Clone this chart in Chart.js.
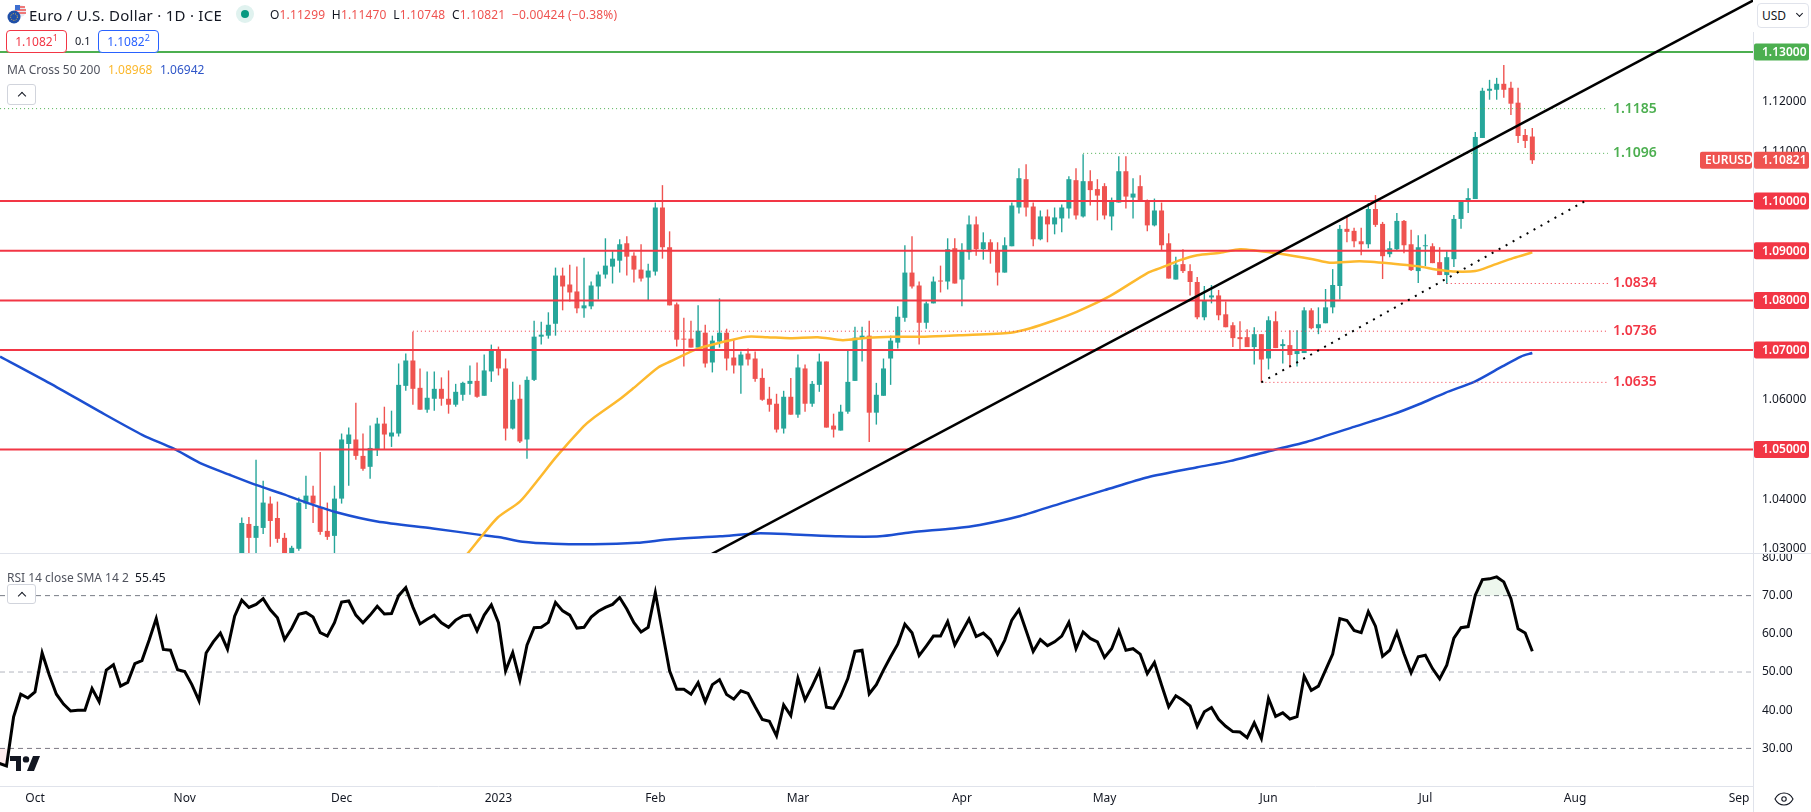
<!DOCTYPE html>
<html><head><meta charset="utf-8"><title>EUR/USD</title>
<script src="https://cdn.jsdelivr.net/npm/chart.js@4/dist/chart.umd.min.js"></script>
<style>
html,body{margin:0;padding:0;background:#fff;width:1811px;height:812px;overflow:hidden;font-family:"Noto Sans",sans-serif;color:#131722}
canvas{position:absolute;left:0}
.t{position:absolute;white-space:nowrap;font-size:12px;line-height:16px}
.btn{position:absolute;border:1px solid #d1d4dc;border-radius:3px;background:#fff;box-sizing:border-box}
.btn:after{content:"";position:absolute;left:11px;top:8px;width:5px;height:5px;border-left:1.5px solid #131722;border-top:1.5px solid #131722;transform:rotate(45deg)}
.box{position:absolute;box-sizing:border-box;border-radius:4px;background:#fff;text-align:center;font-size:12px;line-height:21px}
.rule{position:absolute;background:#e0e3eb}
sup{font-size:9px;line-height:0}
svg{position:absolute}
</style></head><body>
<canvas id="price" width="1811" height="554" style="top:0"></canvas>
<canvas id="rsi" width="1811" height="258" style="top:554px"></canvas>

<div class="rule" style="left:0;top:553px;width:1811px;height:1px"></div>
<div class="rule" style="left:1753px;top:32px;width:1px;height:780px"></div>

<svg style="left:7px;top:5px" width="20" height="19" viewBox="0 0 20 19"><circle cx="13" cy="6" r="6" fill="#e8eaf2"/><path d="M9 2h9M8 5h11M8 8h11" stroke="#ef5350" stroke-width="1.4"/><rect x="8" y="0" width="5" height="5" fill="#3f6fd0"/><circle cx="7" cy="12" r="6.5" fill="#1f4fa8"/><circle cx="7" cy="12" r="3.4" fill="none" stroke="#f5c542" stroke-width="1" stroke-dasharray="1 1.4"/></svg>
<div class="t" id="pairTitle" style="left:29px;top:4px;font-size:15px;line-height:22px;letter-spacing:.27px">Euro / U.S. Dollar · 1D · ICE</div>
<svg style="left:236px;top:5px" width="18" height="18"><circle cx="9" cy="9" r="9" fill="#e0f2ef"/><circle cx="9" cy="9" r="4" fill="#089981"/></svg>
<div class="t" style="left:270px;top:7px;letter-spacing:.18px"><span>O</span><span style="color:#ef5350">1.11299</span>&nbsp; <span>H</span><span style="color:#ef5350">1.11470</span>&nbsp; <span>L</span><span style="color:#ef5350">1.10748</span>&nbsp; <span>C</span><span style="color:#ef5350">1.10821&nbsp; −0.00424 (−0.38%)</span></div>
<div class="box" style="left:6px;top:30px;width:61px;height:23px;border:1px solid #f23645;color:#f23645">1.1082<sup>1</sup></div>
<div class="t" style="left:75px;top:33px;font-size:11px">0.1</div>
<div class="box" style="left:98px;top:30px;width:61px;height:23px;border:1px solid #2962ff;color:#2962ff">1.1082<sup>2</sup></div>
<div class="t" style="left:7px;top:62px;color:#50535e">MA Cross 50 200</div>
<div class="t" style="left:108px;top:62px;color:#fbb82c">1.08968</div>
<div class="t" style="left:160px;top:62px;color:#2f56c8">1.06942</div>
<div class="btn" style="left:7px;top:84px;width:29px;height:21px"></div>
<div class="box" style="left:1757px;top:3px;width:52px;height:25px;border:1px solid #e0e3eb;text-align:left;padding-left:4px;line-height:23px;color:#131722">USD<span style="position:absolute;right:6px;top:7px;width:4px;height:4px;border-right:1.3px solid #131722;border-bottom:1.3px solid #131722;transform:rotate(45deg)"></span></div>

<div class="t" style="left:7px;top:570px;color:#50535e">RSI 14 close SMA 14 2 &nbsp;<span style="color:#131722">55.45</span></div>
<div class="btn" style="left:7px;top:584px;width:29px;height:20px"></div>
<svg style="left:10px;top:756px" width="30" height="15" viewBox="0 0 30 15" fill="#131722"><path d="M0 0h11v15H6V5H0z"/><circle cx="16" cy="3.4" r="3.2"/><path d="M23 0h7l-6 15h-7z"/></svg>
<svg style="left:1774px;top:792px" width="20" height="14" viewBox="0 0 20 14" fill="none" stroke="#131722" stroke-width="1.1"><path d="M1 7c2-4 5-6 9-6s7 2 9 6c-2 4-5 6-9 6s-7-2-9-6z"/><circle cx="10" cy="7" r="2.2"/></svg>

<script>
// First candle is weekday index 29 (index 0 = 3 Oct 2022); one value per weekday.
const candleStart = 29;
const opens = [1.0270,1.0350,1.0322,1.0342,1.0391,1.0362,1.0322,1.0285,1.0300,1.0391,1.0407,1.0384,1.0336,1.0326,1.0401,1.0511,1.0520,1.0487,1.0465,1.0499,1.0552,1.0526,1.0532,1.0628,1.0679,1.0624,1.0580,1.0602,1.0622,1.0602,1.0590,1.0610,1.0632,1.0638,1.0608,1.0657,1.0701,1.0663,1.0542,1.0602,1.0520,1.0640,1.0727,1.0729,1.0753,1.0850,1.0832,1.0818,1.0784,1.0788,1.0828,1.0852,1.0868,1.0880,1.0915,1.0890,1.0862,1.0846,1.0858,1.0987,1.0907,1.0792,1.0723,1.0723,1.0705,
1.0735,1.0675,1.0717,1.0735,1.0685,1.0669,1.0693,1.0683,1.0644,1.0602,1.0592,1.0542,1.0606,1.0570,1.0663,1.0592,1.0630,1.0677,1.0548,1.0538,1.0576,1.0638,1.0723,1.0729,1.0574,1.0608,1.0683,1.0715,1.0765,1.0856,1.0830,1.0755,1.0794,1.0840,1.0838,1.0905,1.0842,1.0897,1.0953,1.0903,1.0917,1.0899,1.0856,1.0909,1.0987,1.1044,1.0989,1.0923,1.0969,1.0953,1.0965,1.0985,1.1042,1.0969,1.1040,1.1024,1.1030,1.0969,1.0997,1.1060,1.1007,1.1030,1.1001,1.0951,1.0981,1.0915,1.0842,
1.0873,1.0859,1.0837,1.0766,1.0806,1.0810,1.0772,1.0750,1.0726,1.0726,1.0706,1.0732,1.0683,1.0758,1.0708,1.0710,1.0692,1.0694,1.0780,1.0744,1.0754,1.0786,1.0829,1.0944,1.0940,1.0919,1.0913,1.0984,1.0954,1.0893,1.0903,1.0960,1.0913,1.0859,1.0909,1.0909,1.0877,1.0851,1.0883,1.0964,1.0998,1.1004,1.1127,1.1222,1.1224,1.1236,1.1228,1.1198,1.1133,1.11299];
const highs = [1.0363,1.0364,1.0479,1.0437,1.0405,1.0395,1.0332,1.0306,1.0403,1.0447,1.0427,1.0495,1.0393,1.0427,1.0532,1.0544,1.0594,1.0532,1.0548,1.0564,1.0586,1.0578,1.0673,1.0693,1.0737,1.0663,1.0657,1.0657,1.0645,1.0659,1.0632,1.0636,1.0669,1.0675,1.0691,1.0711,1.0707,1.0683,1.0636,1.0630,1.0647,1.0759,1.0757,1.0776,1.0866,1.0866,1.0872,1.0868,1.0886,1.0838,1.0858,1.0925,1.0899,1.0923,1.0929,1.0897,1.0913,1.0874,1.0997,1.1032,1.0939,1.0796,1.0765,1.0759,1.0790,
1.0751,1.0729,1.0804,1.0743,1.0721,1.0697,1.0703,1.0697,1.0663,1.0626,1.0612,1.0618,1.0644,1.0691,1.0671,1.0638,1.0693,1.0677,1.0572,1.0590,1.0699,1.0747,1.0747,1.0759,1.0634,1.0683,1.0729,1.0788,1.0911,1.0929,1.0838,1.0798,1.0848,1.0870,1.0925,1.0925,1.0915,1.0971,1.0969,1.0937,1.0923,1.0917,1.0927,1.0997,1.1066,1.1074,1.0997,1.0981,1.0983,1.0987,1.0993,1.1050,1.1066,1.1094,1.1062,1.1044,1.1036,1.1007,1.1090,1.1090,1.1046,1.1052,1.1003,1.1005,1.0997,1.0935,1.0888,
1.0903,1.0873,1.0847,1.0829,1.0831,1.0821,1.0798,1.0756,1.0758,1.0742,1.0746,1.0732,1.0768,1.0778,1.0722,1.0740,1.0740,1.0786,1.0784,1.0786,1.0823,1.0863,1.0952,1.0970,1.0946,1.0946,1.0996,1.1012,1.0958,1.0919,1.0976,1.0962,1.0942,1.0931,1.0933,1.0915,1.0907,1.0899,1.0972,1.1000,1.1026,1.1139,1.1228,1.1244,1.1248,1.1274,1.1240,1.1228,1.1145,1.11470];
const lows = [1.0255,1.0270,1.0280,1.0330,1.0304,1.0312,1.0275,1.0280,1.0296,1.0380,1.0352,1.0328,1.0318,1.0285,1.0391,1.0427,1.0479,1.0457,1.0441,1.0487,1.0499,1.0505,1.0526,1.0618,1.0590,1.0580,1.0574,1.0578,1.0588,1.0572,1.0586,1.0598,1.0610,1.0604,1.0608,1.0636,1.0649,1.0518,1.0540,1.0513,1.0481,1.0638,1.0711,1.0723,1.0729,1.0780,1.0798,1.0774,1.0765,1.0782,1.0802,1.0844,1.0834,1.0856,1.0850,1.0836,1.0838,1.0800,1.0850,1.0884,1.0790,1.0707,1.0667,1.0705,1.0705,
1.0665,1.0655,1.0705,1.0659,1.0653,1.0612,1.0669,1.0636,1.0598,1.0576,1.0534,1.0532,1.0570,1.0564,1.0576,1.0586,1.0616,1.0544,1.0524,1.0538,1.0572,1.0638,1.0677,1.0515,1.0550,1.0608,1.0630,1.0703,1.0757,1.0824,1.0711,1.0743,1.0794,1.0816,1.0822,1.0834,1.0788,1.0882,1.0890,1.0882,1.0874,1.0830,1.0856,1.0909,1.0975,1.0969,1.0909,1.0921,1.0917,1.0933,1.0937,1.0965,1.0963,1.0967,1.0991,1.0961,1.0963,1.0941,1.0997,1.0985,1.0965,1.0999,1.0939,1.0949,1.0901,1.0844,1.0842,
1.0855,1.0810,1.0762,1.0760,1.0794,1.0760,1.0746,1.0706,1.0702,1.0706,1.0671,1.0635,1.0661,1.0704,1.0673,1.0665,1.0667,1.0694,1.0742,1.0732,1.0754,1.0774,1.0802,1.0917,1.0907,1.0891,1.0905,1.0948,1.0843,1.0887,1.0901,1.0895,1.0859,1.0835,1.0869,1.0875,1.0851,1.0833,1.0867,1.0944,1.0976,1.1004,1.1127,1.1204,1.1204,1.1208,1.1173,1.1117,1.1107,1.10748];
const closes = [1.0352,1.0322,1.0346,1.0393,1.0356,1.0320,1.0285,1.0302,1.0393,1.0407,1.0391,1.0334,1.0324,1.0401,1.0520,1.0530,1.0487,1.0461,1.0503,1.0552,1.0530,1.0534,1.0630,1.0679,1.0622,1.0580,1.0604,1.0622,1.0602,1.0590,1.0616,1.0634,1.0638,1.0606,1.0659,1.0701,1.0663,1.0542,1.0600,1.0516,1.0640,1.0727,1.0731,1.0751,1.0850,1.0828,1.0816,1.0784,1.0790,1.0830,1.0852,1.0870,1.0884,1.0913,1.0888,1.0862,1.0844,1.0860,1.0987,1.0907,1.0790,1.0721,1.0721,1.0705,1.0739,
1.0673,1.0719,1.0735,1.0683,1.0669,1.0691,1.0681,1.0642,1.0600,1.0590,1.0540,1.0606,1.0570,1.0665,1.0592,1.0632,1.0677,1.0544,1.0540,1.0576,1.0636,1.0725,1.0729,1.0574,1.0610,1.0663,1.0719,1.0767,1.0856,1.0828,1.0755,1.0794,1.0838,1.0838,1.0903,1.0834,1.0901,1.0953,1.0903,1.0917,1.0899,1.0856,1.0911,1.0991,1.1046,1.0987,1.0923,1.0969,1.0953,1.0967,1.0987,1.1044,1.0971,1.1040,1.1022,1.1011,1.0971,1.0999,1.1060,1.1009,1.1015,1.0999,1.0951,1.0981,1.0911,1.0844,1.0872,
1.0859,1.0837,1.0766,1.0800,1.0810,1.0770,1.0746,1.0724,1.0722,1.0706,1.0732,1.0681,1.0760,1.0704,1.0712,1.0690,1.0698,1.0780,1.0744,1.0752,1.0786,1.0831,1.0944,1.0938,1.0919,1.0913,1.0984,1.0952,1.0889,1.0905,1.0960,1.0911,1.0861,1.0907,1.0911,1.0875,1.0851,1.0887,1.0964,1.1000,1.1006,1.1129,1.1222,1.1226,1.1236,1.1224,1.1196,1.1131,1.1121,1.10821];

const ma50Idx = [55,60.7,62.8,64.9,68,70.5,73.1,76.9,78.1,82,83.9,87.4,89.1,92.8,96.1,99.9,102.7,105.9,109.8,113.3,116.7,120.3,124.8,129.7,136.8,139.6,142.8,146.1,150.8,156,157.8,160.6,163,166.2,169,171.4,174.2,179.2,181.6,185.8,190.5,193.8,197,198.9,202,204.5,207.3,210];
const ma50 = [1.0195,1.0291,1.0328,1.0363,1.0395,1.0438,1.0485,1.0546,1.0561,1.0601,1.0623,1.0665,1.0677,1.0702,1.0715,1.0727,1.0726,1.0724,1.0726,1.0720,1.0725,1.0727,1.0727,1.0730,1.0735,1.0744,1.0759,1.0777,1.0809,1.0855,1.0865,1.0881,1.0891,1.0896,1.0903,1.0900,1.0895,1.0883,1.0876,1.0879,1.0874,1.0869,1.0861,1.0858,1.0859,1.0871,1.0885,1.08968];
const ma200Idx = [-4.9,2.1,9.1,15.1,19.4,23.1,27.3,31.1,34.8,38.1,42.4,48,55.8,62.4,65.2,68.4,72.7,78.3,84.4,89.1,96.1,101.3,106.3,112.9,118.5,122.7,128.8,132.5,138.2,144,150,156.1,163,167.7,174,178.3,185.1,190.5,194.1,197.8,202,205.8,208.4,210];
const ma200 = [1.0687,1.0633,1.0576,1.0529,1.0502,1.0473,1.0449,1.0428,1.0410,1.0393,1.0373,1.0355,1.0341,1.0328,1.0323,1.0314,1.0310,1.0309,1.0312,1.0319,1.0325,1.0331,1.0329,1.0325,1.0325,1.0333,1.0341,1.0348,1.0366,1.0392,1.0418,1.0444,1.0464,1.0477,1.0500,1.0515,1.0546,1.0571,1.0591,1.0614,1.0637,1.0667,1.0687,1.06942];

// RSI: one value per weekday from index -5 to 210
const rsiStart = -5;
const rsiValues = [26.1,25.4,38.3,44.2,43.2,44.8,55.0,49.2,44.2,41.6,39.8,40.0,40.0,45.7,42.2,50.5,51.9,46.3,47.3,52.2,53.0,58.3,64.0,55.9,55.7,50.6,50.1,46.7,42.5,55.0,57.9,60.2,56.0,64.6,68.8,66.9,67.7,69.2,66.3,64.2,58.5,61.4,65.1,65.6,64.4,60.3,59.4,62.9,68.3,68.6,64.9,62.9,64.9,67.2,65.2,65.3,70.0,72.1,67.0,62.6,63.8,64.9,62.9,61.7,63.6,64.7,64.9,60.8,64.9,67.6,62.9,50.3,55.1,47.9,57.0,61.6,61.7,63.0,68.2,66.0,64.9,61.5,61.7,64.4,65.9,66.9,67.7,69.5,66.5,62.9,60.5,61.7,70.8,60.5,50.3,45.5,45.5,44.2,47.2,
42.2,46.7,48.0,44.1,42.9,45.1,44.4,40.9,37.6,37.1,33.3,41.4,38.6,48.4,42.7,46.3,50.3,40.8,40.5,43.8,48.3,55.4,55.7,44.3,46.7,50.5,54.0,57.3,62.5,60.3,54.3,56.8,59.4,59.4,63.2,57.1,60.5,63.9,59.3,60.2,58.5,54.7,58.3,63.6,66.3,60.9,55.4,58.5,56.9,57.9,59.4,63.0,56.1,60.5,58.8,57.9,53.8,56.1,60.8,55.7,56.1,54.7,49.6,52.5,46.6,40.9,43.8,42.6,41.1,35.8,39.6,40.7,37.6,35.8,34.4,34.3,32.8,36.7,32.6,43.1,38.4,39.3,37.7,38.3,48.9,45.2,46.3,50.5,54.7,64.0,63.5,60.9,60.3,65.8,62.0,54.1,55.7,60.4,54.8,49.8,54.0,54.4,50.9,48.2,51.8,58.9,61.6,61.9,70.1,74.2,74.4,74.9,73.6,69.2,61.3,60.2,55.45];

const redLevels = [1.10,1.09,1.08,1.07,1.05];
const greenLevels = [1.13];
const dottedLevels = [1.1186,1.1096,1.0834,1.0738,1.0635];
const dottedFrom = [-4.9,147,198,53,172];
const dottedText = ["1.1185","1.1096","1.0834","1.0736","1.0635"];
const dottedGreen = [true,true,false,false,false];
const dottedEnd = 220.6;
const trendIdx = [90,241];
const trendVal = [1.0252,1.1404];
const dotTrendIdx = [172,217.4];
const dotTrendVal = [1.0635,1.10];
const priceTicks = [1.03,1.04,1.05,1.06,1.07,1.08,1.09,1.10,1.11,1.12,1.13];
const rsiTicks = [30,40,50,60,70,80];
const rsiDash = [30,50,70];
const monthIdx = [0,21,43,65,87,107,130,150,173,195,216,239];
const monthLabels = ["Oct","Nov","Dec","2023","Feb","Mar","Apr","May","Jun","Jul","Aug","Sep"];
const lastPrice = 1.10821;
const symbol = "EURUSD";

const FONT = '"Noto Sans", sans-serif';
const UP = '#26a69a', DOWN = '#ef5350', RED = '#f23645', GREEN = '#4caf50';
const XMIN = -4.909, XMAX = 240.95;
const pairs = (xs, ys) => xs.map((x, k) => ({x, y: ys[k]}));
const lineDs = (data, color, width, order, extra) => Object.assign({type:'line', data, borderColor:color, borderWidth:width, pointRadius:0, tension:0, order, fill:false}, extra||{});
const noInset = s => { s.width = 58; s.paddingTop = 0; s.paddingBottom = 0; s.paddingLeft = 0; s.paddingRight = 0; };

const dayIdx = opens.map((_, k) => candleStart + k);
const candleColors = opens.map((o, k) => closes[k] >= o ? UP : DOWN);
const datasets = [
  {type:'bar', data: dayIdx.map((x,k)=>({x, y:[lows[k],highs[k]]})), backgroundColor:candleColors, barThickness:1.4, inflateAmount:0, grouped:false, order:11},
  {type:'bar', data: dayIdx.map((x,k)=>({x, y:[opens[k],closes[k]]})), backgroundColor:candleColors, barThickness:5, inflateAmount:0, grouped:false, order:10},
  lineDs(pairs(ma50Idx, ma50), '#fdb92e', 2.5, 6, {tension:.25}),
  lineDs(pairs(ma200Idx, ma200), '#1c4fd1', 2.5, 6, {tension:.25})
];
dottedLevels.forEach((v,k)=>datasets.push(lineDs([{x:dottedFrom[k],y:v},{x:dottedEnd,y:v}], dottedGreen[k]?GREEN:RED, 1, 5, {borderDash:[1,3]})));
redLevels.forEach(v=>datasets.push(lineDs([{x:XMIN,y:v},{x:XMAX,y:v}], RED, 2, 3)));
greenLevels.forEach(v=>datasets.push(lineDs([{x:XMIN,y:v},{x:XMAX,y:v}], GREEN, 2, 3)));
datasets.push(lineDs(pairs(trendIdx, trendVal), '#000', 2.5, 2));
datasets.push(lineDs(pairs(dotTrendIdx, dotTrendVal), '#000', 2, 2, {borderDash:[2,6]}));

const labelsPlugin = {
  id:'levelLabels',
  afterDraw(c){
    const {ctx, scales:{x,y}} = c;
    ctx.save();
    ctx.textBaseline='middle'; ctx.textAlign='left';
    ctx.font = '600 14px '+FONT;
    dottedLevels.forEach((v,k)=>{
      ctx.fillStyle = dottedGreen[k]?GREEN:RED;
      ctx.fillText(dottedText[k], x.getPixelForValue(dottedEnd)+5, y.getPixelForValue(v));
    });
    const box=(v,col,txt)=>{
      const py=y.getPixelForValue(v);
      ctx.fillStyle=col; ctx.beginPath(); ctx.roundRect(1754,py-8.5,55,17,2); ctx.fill();
      ctx.fillStyle='#fff'; ctx.font='600 12px '+FONT; ctx.fillText(txt,1762,py+.5);
    };
    greenLevels.forEach(v=>box(v,GREEN,v.toFixed(5)));
    redLevels.forEach(v=>box(v,RED,v.toFixed(5)));
    const lp=y.getPixelForValue(lastPrice);
    ctx.fillStyle=DOWN; ctx.beginPath(); ctx.roundRect(1700,lp-8.5,52,17,2); ctx.fill();
    ctx.fillStyle='#fff'; ctx.font='600 12px '+FONT; ctx.fillText(symbol,1705,lp+.5);
    box(lastPrice,DOWN,lastPrice.toFixed(5));
    ctx.restore();
  }
};

new Chart(document.getElementById('price'),{
  data:{datasets},
  plugins:[labelsPlugin],
  options:{responsive:false,animation:false,devicePixelRatio:1,layout:{padding:0,autoPadding:false},events:[],
    plugins:{legend:{display:false},tooltip:{enabled:false}},
    scales:{
      x:{type:'linear',min:XMIN,max:XMAX,display:false,offset:false,grid:{offset:false}},
      y:{type:'linear',position:'right',min:1.02895,max:1.14047,offset:false,
        grid:{display:false,drawTicks:false},border:{display:false},
        afterFit:noInset,
        afterBuildTicks:s=>{s.ticks=priceTicks.map(value=>({value}));},
        ticks:{padding:9,color:'#131722',font:{size:12,family:FONT},callback:v=>Number(v).toFixed(5)}
      }
    }
  }
});

const rsiPoints = rsiValues.map((y,k)=>({x:rsiStart+k,y}));
const rsiDatasets = [
  lineDs(rsiPoints,'#000',3,1,{tension:0,fill:{target:{value:70},above:'rgba(76,175,80,0.10)',below:'rgba(0,0,0,0)'}}),
  lineDs(rsiPoints,'rgba(0,0,0,0)',0,4,{fill:{target:{value:30},above:'rgba(0,0,0,0)',below:'rgba(242,54,69,0.10)'}})
];
rsiDash.forEach(v=>rsiDatasets.push(lineDs([{x:XMIN,y:v},{x:XMAX,y:v}], v===50?'#b2b5be':'#787b86', 1, 5, {borderDash:[5,4]})));

new Chart(document.getElementById('rsi'),{
  data:{datasets:rsiDatasets},
  options:{responsive:false,animation:false,devicePixelRatio:1,layout:{padding:0,autoPadding:false},events:[],
    plugins:{legend:{display:false},tooltip:{enabled:false}},
    scales:{
      x:{type:'linear',position:'bottom',min:XMIN,max:XMAX,offset:false,
        grid:{display:false,drawTicks:false},border:{display:true,color:'#e0e3eb',width:1},
        afterFit:s=>{s.height=26;s.paddingLeft=0;s.paddingRight=0;s.paddingTop=0;s.paddingBottom=0;},
        afterBuildTicks:s=>{s.ticks=monthIdx.map(value=>({value}));},
        ticks:{padding:5,maxRotation:0,autoSkip:false,color:'#131722',font:{size:12,family:FONT},
          callback:v=>monthLabels[monthIdx.indexOf(v)]}
      },
      y:{type:'linear',position:'right',min:20.16,max:80.9,
        grid:{display:false,drawTicks:false},border:{display:false},
        afterFit:noInset,
        afterBuildTicks:s=>{s.ticks=rsiTicks.map(value=>({value}));},
        ticks:{padding:9,color:'#131722',font:{size:12,family:FONT},callback:v=>Number(v).toFixed(2)}
      }
    }
  }
});
</script>
</body></html>
